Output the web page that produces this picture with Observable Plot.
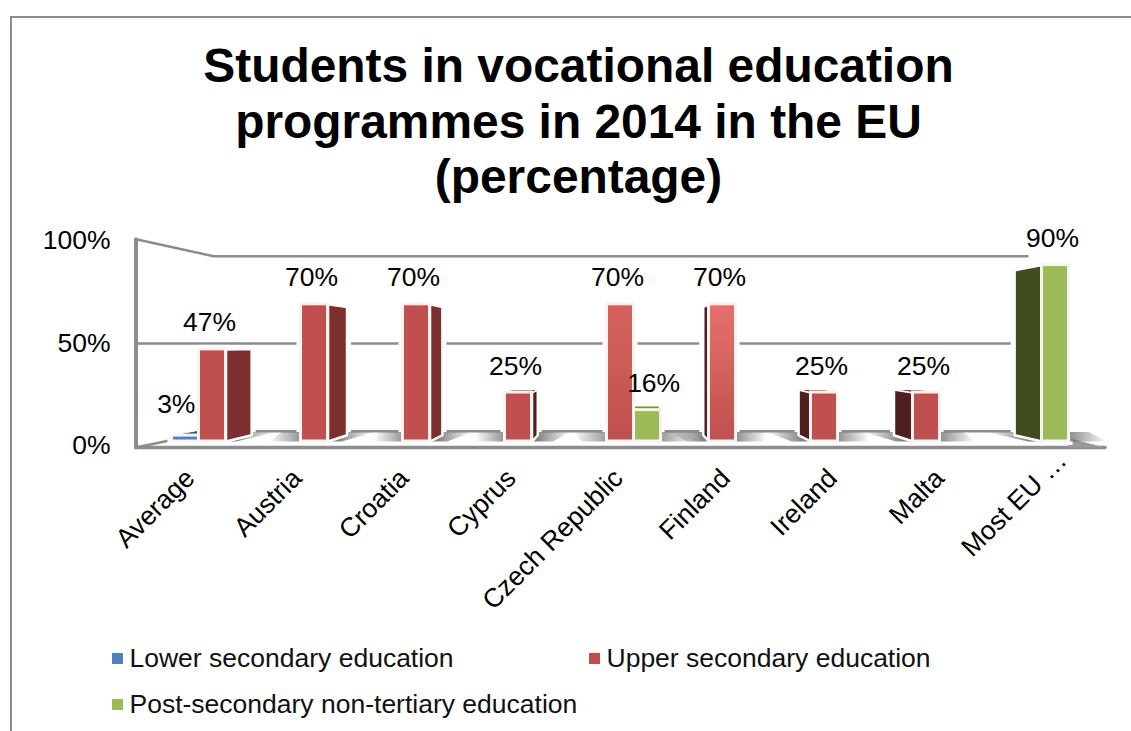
<!DOCTYPE html>
<html>
<head>
<meta charset="utf-8">
<script src="https://cdn.jsdelivr.net/npm/d3@7"></script>
<script src="https://cdn.jsdelivr.net/npm/@observablehq/plot@0.6"></script>
<style>
html,body{margin:0;padding:0;background:#fff;width:1131px;height:731px;overflow:hidden;font-family:"Liberation Sans",Arial,sans-serif;}
#frame{position:absolute;left:10px;top:16px;right:-5px;bottom:-5px;border:2px solid #8c8c8c;}
#title{position:relative;height:215px;box-sizing:border-box;padding-top:38px;padding-left:26px;text-align:center;font-weight:bold;font-size:47.9px;line-height:55.5px;color:#000;}
#chart{position:relative;height:416px;}
#chart svg{display:block;}
#legend{position:relative;height:100px;font-size:26.5px;color:#111;}
.item{position:absolute;display:flex;align-items:center;white-space:nowrap;}
.swatch{display:inline-block;width:11px;height:11px;margin-right:6.5px;}
</style>
</head>
<body>
<div id="frame"></div>
<div id="title">Students in vocational education<br>programmes in 2014 in the EU<br>(percentage)</div>
<div id="chart"></div>
<div id="legend"></div>
<script>
const categories = ["Average","Austria","Croatia","Cyprus","Czech Republic","Finland","Ireland","Malta","Most EU …"];
const lowerSecondary = [3,null,null,null,null,null,null,null,null];
const upperSecondary = [47,70,70,25,70,70,25,25,null];
const postSecondary  = [null,null,null,null,16,null,null,null,90];
const yTicks = [0,50,100];
const seriesNames = ["Lower secondary education","Upper secondary education","Post-secondary non-tertiary education"];
const seriesFront = ["#4F81BD","#C0504D","#9BBB59"];
const seriesTop   = ["#2F5F96","#8E3A38","#76923C"];
const seriesRight = ["#2F5F96","#7B302E","#55682C"];
const seriesLeft  = ["#24466E","#4E1F1E","#3F4D1F"];

// Perspective of the 3-D box, in the units of the two scales.
const vx = 4, vy = 49, barDepth = 0.065, wallDepth = 0.16, slot = 0.265;
const floorFront = -3.1, topFront = 103.2;
const wallLeft = -0.75, wallRight = 8.75;
const back = (v, vanish, k) => v + (vanish - v) * k;

const bars = [];
[lowerSecondary, upperSecondary, postSecondary].forEach((vals, s) => vals.forEach((v, i) => {
  if (v == null) return;
  const c = i + (s - 1) * slot;
  bars.push({i, s, v, c, x1: c - slot / 2, x2: c + slot / 2});
}));

// side and top faces
const sides = [], tops = [];
bars.forEach((b, n) => {
  const add = (list, key, fill, pts) => pts.forEach(([x, y]) => list.push({id: key + n, fill, x, y}));
  const edge = b.x2 < vx ? b.x2 : b.x1 > vx + slot ? b.x1 : null;
  if (edge != null && b.s !== 0) {
    add(sides, "side", edge < vx && b.v > 25 ? seriesRight[b.s] : seriesLeft[b.s], [
      [edge, 0], [edge, b.v],
      [back(edge, vx, barDepth), back(b.v, vy, barDepth)],
      [back(edge, vx, barDepth), back(0, vy, barDepth)]
    ]);
  }
  if (b.v < vy - 5) {
    add(tops, "top", seriesTop[b.s], [
      [b.x1, b.v], [b.x2, b.v],
      [back(b.x2, vx, barDepth), back(b.v, vy, barDepth)],
      [back(b.x1, vx, barDepth), back(b.v, vy, barDepth)]
    ]);
  }
});

// floor shadows: lean towards the vanishing point
const shadows = [];
categories.forEach((_, i) => {
  const bs = bars.filter(b => b.i === i && b.s > 0);
  const a = d3.min(bs, b => b.x1), z = d3.max(bs, b => b.x2);
  const t = Math.max(-1, Math.min(1, (vx - i) / 4));
  [[a - 0.24 - 0.1 * t, 0], [z + 0.24 - 0.14 * t, 0], [z + 0.34 + 0.15 * t, 4.8], [a - 0.34 + 0.2 * t, 4.8]]
    .forEach(([x, y]) => shadows.push({id: i, x, y}));
});

const rightFloor = [[8.41, 1.5], [wallRight, floorFront], [8.38, floorFront]];
const bl = back(wallLeft, vx, wallDepth), br = back(wallRight, vx, wallDepth);
const wallLines = [
  {id: "top", pts: [[wallLeft, topFront], [bl, back(topFront, vy, wallDepth)], [br, back(topFront, vy, wallDepth)]], w: 2.5},
  {id: "mid", pts: [[wallLeft, 50], [br, 50]], w: 2.5},
  {id: "floorBack", pts: [[wallLeft, floorFront], [bl, back(floorFront, vy, wallDepth)], [br, back(floorFront, vy, wallDepth)]], w: 2.5},
  {id: "floorFront", pts: [[wallLeft, floorFront], [wallRight, floorFront]], w: 3.5},
  {id: "axis", pts: [[wallLeft, floorFront], [wallLeft, topFront]], w: 4}
].flatMap(l => l.pts.map(([x, y]) => ({id: l.id, x, y, w: l.w})));

const tickY = v => -2.2 + v * 1.046;
const font = "Liberation Sans, Arial, sans-serif";
const wallColor = "#8c8c8c";
const size = 26.5;

const defs = () => {
  const g = d3.create("svg:defs");
  const sh = g.append("linearGradient").attr("id", "shadow");
  [[0, 0], [0.34, 0.8], [0.66, 0.8], [1, 0]].forEach(([o, a]) =>
    sh.append("stop").attr("offset", o).attr("stop-color", "#666").attr("stop-opacity", a));
  const vertical = (id, top) => {
    const r = g.append("linearGradient").attr("id", id).attr("x2", 0).attr("y2", 1);
    [[0, top], [1, "#C0504D"]].forEach(([o, c]) => r.append("stop").attr("offset", o).attr("stop-color", c));
  };
  vertical("redCzech", "#D6625E");
  vertical("redFinland", "#E5716D");
  return g.node();
};

const front = (data, fill) => Plot.rect(data, {x1: "x1", x2: "x2", y1: 0, y2: "v", fill, stroke: "#f8f4f4", strokeWidth: 3});

const chart = Plot.plot({
  width: 1131,
  height: 416,
  marginTop: 30,
  marginBottom: 190,
  marginLeft: 0,
  marginRight: 0,
  style: {fontFamily: font, background: "transparent", overflow: "visible"},
  x: {type: "linear", domain: [-0.5, 8.5], range: [161, 1079], axis: null},
  y: {type: "linear", domain: [0, 100], range: [226, 30], axis: null},
  color: {type: "identity"},
  marks: [
    defs,
    Plot.line(wallLines, {x: "x", y: "y", z: "id", stroke: wallColor, strokeWidth: "w", strokeLinejoin: "miter"}),
    Plot.line(rightFloor, {x: d => d[0], y: d => d[1], fill: "#9a9a9a", stroke: "none", curve: "linear-closed"}),
    // white halo keeps the grid lines away from the bars
    Plot.rect(bars, {x1: "x1", x2: "x2", y1: 0, y2: "v", fill: "#fff", stroke: "#fff", strokeWidth: 8}),
    Plot.line(sides, {x: "x", y: "y", z: "id", fill: "#fff", stroke: "#fff", strokeWidth: 8, curve: "linear-closed"}),
    Plot.line(shadows, {x: "x", y: "y", z: "id", fill: "url(#shadow)", stroke: "none", curve: "linear-closed"}),
    Plot.line(sides, {x: "x", y: "y", z: "id", fill: "fill", stroke: "#fff", strokeWidth: 2.5, curve: "linear-closed"}),
    Plot.line(tops, {x: "x", y: "y", z: "id", fill: "fill", stroke: "#fff", strokeWidth: 1, curve: "linear-closed"}),
    front(bars.filter(b => !(b.s === 1 && (b.i === 4 || b.i === 5))), d => seriesFront[d.s]),
    front(bars.filter(b => b.s === 1 && b.i === 4), "url(#redCzech)"),
    front(bars.filter(b => b.s === 1 && b.i === 5), "url(#redFinland)"),
    Plot.text(bars.filter(b => b.s !== 0), {
      x: d => d.c + (d.s === 2 && d.i === 4 ? 0.06 : -0.03),
      y: "v",
      text: d => d.v + "%",
      lineAnchor: "bottom",
      fontSize: size,
      fill: "#000",
      dy: -18
    }),
    Plot.text(bars.filter(b => b.s === 0), {
      x: d => d.c - 0.09,
      y: "v",
      text: d => d.v + "%",
      lineAnchor: "bottom",
      fontSize: size,
      fill: "#000",
      dy: -23
    }),
    Plot.text(yTicks, {
      frameAnchor: "left",
      y: tickY,
      text: d => d + "%",
      textAnchor: "end",
      dx: 110,
      fontSize: size,
      fill: "#000"
    }),
    Plot.text(categories, {
      x: (d, i) => vx + (i - vx) * 1.05 - 0.02 + (i === 8 ? 0.15 : 0),
      y: (d, i) => i === 8 ? -7.5 : -16.5,
      text: d => d,
      rotate: -45,
      textAnchor: "end",
      fontSize: size,
      fill: "#000"
    })
  ]
});
document.getElementById("chart").appendChild(chart);

const legend = document.getElementById("legend");
[[0, 112, 12], [1, 589, 12], [2, 112, 58]].forEach(([s, left, top]) => {
  const it = document.createElement("div");
  it.className = "item";
  it.style.left = left + "px";
  it.style.top = top + "px";
  it.innerHTML = `<span class="swatch" style="background:${seriesFront[s]}"></span><span>${seriesNames[s]}</span>`;
  legend.appendChild(it);
});
</script>
</body>
</html>
